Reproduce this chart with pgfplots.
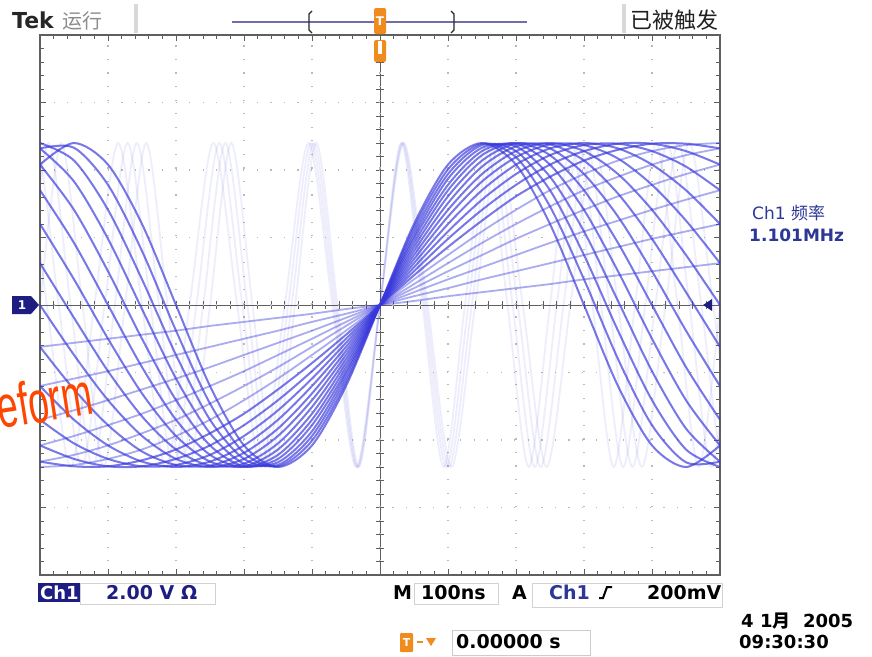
\documentclass[border=0pt]{standalone}
\usepackage{pgfplots}
\pgfplotsset{compat=1.18}
\usepackage{pgfplotstable}
\usepackage{graphicx}
\usepackage{fontspec}
\setmainfont{DejaVu Sans}
\newfontfamily\cjk{Noto Sans CJK SC}
\newfontfamily\lib{Liberation Sans}
\definecolor{trace}{RGB}{55,55,220}
\definecolor{navy}{RGB}{30,30,130}
\definecolor{chblue}{RGB}{45,55,150}
\definecolor{scopeorange}{RGB}{240,140,30}
\definecolor{frame}{RGB}{95,95,95}
\definecolor{barcol}{RGB}{110,110,170}
\definecolor{redorange}{RGB}{255,70,0}

\pgfplotstableread{
x k1 k2 k3 k4 k5 k6 k7 k8 k9 k10 k11 k12 k13 k14 k15 k16 k17 k18 k19 k20
-5 -0.62 -1.20 -1.70 -2.08 -2.32 -2.40 -2.32 -2.08 -1.70 -1.20 -0.62 0.00 0.62 1.20 1.70 2.08 2.32 2.40 2.32 2.08
-4.5 -0.56 -1.09 -1.56 -1.94 -2.22 -2.37 -2.39 -2.28 -2.05 -1.70 -1.25 -0.74 -0.19 0.38 0.92 1.41 1.83 2.14 2.33 2.40
-4 -0.50 -0.98 -1.41 -1.78 -2.08 -2.28 -2.39 -2.39 -2.28 -2.08 -1.78 -1.41 -0.98 -0.50 0.00 0.50 0.98 1.41 1.78 2.08
-3.5 -0.44 -0.86 -1.25 -1.61 -1.90 -2.14 -2.30 -2.39 -2.39 -2.32 -2.17 -1.94 -1.65 -1.31 -0.92 -0.50 -0.06 0.38 0.80 1.20
-3 -0.38 -0.74 -1.09 -1.41 -1.70 -1.94 -2.14 -2.28 -2.37 -2.40 -2.37 -2.28 -2.14 -1.94 -1.70 -1.41 -1.09 -0.74 -0.38 0.00
-2.5 -0.31 -0.62 -0.92 -1.20 -1.46 -1.70 -1.90 -2.08 -2.22 -2.32 -2.38 -2.40 -2.38 -2.32 -2.22 -2.08 -1.90 -1.70 -1.46 -1.20
-2 -0.25 -0.50 -0.74 -0.98 -1.20 -1.41 -1.61 -1.78 -1.94 -2.08 -2.19 -2.28 -2.35 -2.39 -2.40 -2.39 -2.35 -2.28 -2.19 -2.08
-1.5 -0.19 -0.38 -0.56 -0.74 -0.92 -1.09 -1.25 -1.41 -1.56 -1.70 -1.83 -1.94 -2.05 -2.14 -2.22 -2.28 -2.33 -2.37 -2.39 -2.40
-1 -0.13 -0.25 -0.38 -0.50 -0.62 -0.74 -0.86 -0.98 -1.09 -1.20 -1.31 -1.41 -1.51 -1.61 -1.70 -1.78 -1.87 -1.94 -2.01 -2.08
-0.5 -0.06 -0.13 -0.19 -0.25 -0.31 -0.38 -0.44 -0.50 -0.56 -0.62 -0.68 -0.74 -0.80 -0.86 -0.92 -0.98 -1.03 -1.09 -1.15 -1.20
0 0 0 0 0 0 0 0 0 0 0 0 0 0 0 0 0 0 0 0 0
0.5 0.06 0.13 0.19 0.25 0.31 0.38 0.44 0.50 0.56 0.62 0.68 0.74 0.80 0.86 0.92 0.98 1.03 1.09 1.15 1.20
1 0.13 0.25 0.38 0.50 0.62 0.74 0.86 0.98 1.09 1.20 1.31 1.41 1.51 1.61 1.70 1.78 1.87 1.94 2.01 2.08
1.5 0.19 0.38 0.56 0.74 0.92 1.09 1.25 1.41 1.56 1.70 1.83 1.94 2.05 2.14 2.22 2.28 2.33 2.37 2.39 2.40
2 0.25 0.50 0.74 0.98 1.20 1.41 1.61 1.78 1.94 2.08 2.19 2.28 2.35 2.39 2.40 2.39 2.35 2.28 2.19 2.08
2.5 0.31 0.62 0.92 1.20 1.46 1.70 1.90 2.08 2.22 2.32 2.38 2.40 2.38 2.32 2.22 2.08 1.90 1.70 1.46 1.20
3 0.38 0.74 1.09 1.41 1.70 1.94 2.14 2.28 2.37 2.40 2.37 2.28 2.14 1.94 1.70 1.41 1.09 0.74 0.38 0.00
3.5 0.44 0.86 1.25 1.61 1.90 2.14 2.30 2.39 2.39 2.32 2.17 1.94 1.65 1.31 0.92 0.50 0.06 -0.38 -0.80 -1.20
4 0.50 0.98 1.41 1.78 2.08 2.28 2.39 2.39 2.28 2.08 1.78 1.41 0.98 0.50 0.00 -0.50 -0.98 -1.41 -1.78 -2.08
4.5 0.56 1.09 1.56 1.94 2.22 2.37 2.39 2.28 2.05 1.70 1.25 0.74 0.19 -0.38 -0.92 -1.41 -1.83 -2.14 -2.33 -2.40
5 0.62 1.20 1.70 2.08 2.32 2.40 2.32 2.08 1.70 1.20 0.62 0.00 -0.62 -1.20 -1.70 -2.08 -2.32 -2.40 -2.32 -2.08
}\sweep

\begin{document}
\begin{tikzpicture}
\useasboundingbox (0pt,0pt) rectangle (872pt,-656pt);
\fill[white] (0pt,0pt) rectangle (872pt,-656pt);
% centre crosshair
\draw[frame, line width=0.9pt] (40pt,-305pt) -- (720pt,-305pt);
\draw[frame, line width=0.9pt] (380pt,-35pt) -- (380pt,-575pt);
\foreach \i in {1,...,49} \draw[frame, line width=0.8pt] ({(40+13.6*\i)*1pt},-301pt) -- ++(0pt,-8pt);
\foreach \i in {1,...,39} \draw[frame, line width=0.8pt] (376pt,{-(35+13.5*\i)*1pt}) -- ++(8pt,0pt);

\begin{axis}[at={(40pt,-575pt)}, anchor=south west, scale only axis,
  width=680pt, height=540pt, xmin=-5, xmax=5, ymin=-4, ymax=4,
  xtick={-5,-4,...,5}, ytick={-4,-3,...,4},
  minor x tick num=4, minor y tick num=4,
  xticklabels={}, yticklabels={},
  tick align=inside, major tick length=6pt, minor tick length=4pt,
  every tick/.style={frame, line width=0.8pt},
  axis line style={frame, line width=2.2pt},
  grid=major,
  major grid style={gray!55, line width=1.2pt, dash pattern=on 1.2pt off 12.35pt},
  clip=true]
% faint high-frequency traces
\addplot[trace, opacity=0.085, line width=1.8pt, smooth] coordinates {
(-5,0) (-4.6875,2.4) (-4.375,0) (-4.0625,-2.4) (-3.75,0) (-3.4375,2.4) (-3.125,0) (-2.8125,-2.4)
(-2.5,0) (-2.1875,2.4) (-1.875,0) (-1.5625,-2.4) (-1.25,0) (-0.9375,2.4) (-0.625,0) (-0.3125,-2.4)
(0,0) (0.3125,2.4) (0.625,0) (0.9375,-2.4) (1.25,0) (1.5625,2.4) (1.875,0) (2.1875,-2.4)
(2.5,0) (2.8125,2.4) (3.125,0) (3.4375,-2.4) (3.75,0) (4.0625,2.4) (4.375,0) (4.6875,-2.4) (5,0)};
\addplot[trace, opacity=0.085, line width=1.8pt, smooth] coordinates {
(-5.2,0) (-4.875,2.4) (-4.55,0) (-4.225,-2.4) (-3.9,0) (-3.575,2.4) (-3.25,0) (-2.925,-2.4)
(-2.6,0) (-2.275,2.4) (-1.95,0) (-1.625,-2.4) (-1.3,0) (-0.975,2.4) (-0.65,0) (-0.325,-2.4)
(0,0) (0.325,2.4) (0.65,0) (0.975,-2.4) (1.3,0) (1.625,2.4) (1.95,0) (2.275,-2.4)
(2.6,0) (2.925,2.4) (3.25,0) (3.575,-2.4) (3.9,0) (4.225,2.4) (4.55,0) (4.875,-2.4) (5.2,0)};
\addplot[trace, opacity=0.085, line width=1.8pt, smooth] coordinates {
(-5.4,0) (-5.0625,2.4) (-4.725,0) (-4.3875,-2.4) (-4.05,0) (-3.7125,2.4) (-3.375,0) (-3.0375,-2.4)
(-2.7,0) (-2.3625,2.4) (-2.025,0) (-1.6875,-2.4) (-1.35,0) (-1.0125,2.4) (-0.675,0) (-0.3375,-2.4)
(0,0) (0.3375,2.4) (0.675,0) (1.0125,-2.4) (1.35,0) (1.6875,2.4) (2.025,0) (2.3625,-2.4)
(2.7,0) (3.0375,2.4) (3.375,0) (3.7125,-2.4) (4.05,0) (4.3875,2.4) (4.725,0) (5.0625,-2.4) (5.4,0)};
\addplot[trace, opacity=0.085, line width=1.8pt, smooth] coordinates {
(-5.6,0) (-5.25,2.4) (-4.9,0) (-4.55,-2.4) (-4.2,0) (-3.85,2.4) (-3.5,0) (-3.15,-2.4)
(-2.8,0) (-2.45,2.4) (-2.1,0) (-1.75,-2.4) (-1.4,0) (-1.05,2.4) (-0.7,0) (-0.35,-2.4)
(0,0) (0.35,2.4) (0.7,0) (1.05,-2.4) (1.4,0) (1.75,2.4) (2.1,0) (2.45,-2.4)
(2.8,0) (3.15,2.4) (3.5,0) (3.85,-2.4) (4.2,0) (4.55,2.4) (4.9,0) (5.25,-2.4) (5.6,0)};
% swept traces
\pgfplotsinvokeforeach{1,...,6}{\addplot[trace, opacity=0.42, line width=1.8pt, smooth] table[x=x, y=k#1]{\sweep};}
\pgfplotsinvokeforeach{7,...,20}{\addplot[trace, opacity=0.68, line width=2pt, smooth] table[x=x, y=k#1]{\sweep};}
\end{axis}

% ---- top bar
\node[anchor=base west, inner sep=0, text=black!85] at (12pt,-28pt) {\fontsize{22}{22}\selectfont\bfseries Tek};
\node[anchor=base west, inner sep=0, text=gray!90] at (62pt,-28pt) {\cjk\fontsize{20}{20}\selectfont 运行};
\fill[gray!30] (134pt,-4pt) rectangle (138pt,-33pt);
\draw[barcol, line width=2pt] (232pt,-22pt) -- (527pt,-22pt);
\draw[gray!30!black, line width=1.3pt] (312pt,-11pt) -- (309pt,-14pt) -- (309pt,-30pt) -- (312pt,-33pt);
\draw[gray!30!black, line width=1.3pt] (451pt,-11pt) -- (454pt,-14pt) -- (454pt,-30pt) -- (451pt,-33pt);
\fill[scopeorange, rounded corners=1.5pt] (374pt,-8pt) rectangle (386pt,-34pt);
\node[text=white, inner sep=0] at (380pt,-21pt) {\fontsize{12}{12}\selectfont\bfseries T};
\fill[scopeorange, rounded corners=1.5pt] (374pt,-40pt) rectangle (386pt,-62pt);
\fill[white] (378pt,-41pt) rectangle (382pt,-54pt);
\fill[gray!30] (622pt,-4pt) rectangle (626pt,-33pt);
\node[anchor=base west, inner sep=0, text=gray!25!black] at (630pt,-28pt) {\cjk\fontsize{22}{22}\selectfont 已被触发};

% ---- markers
\fill[navy] (12pt,-296pt) -- (31pt,-296pt) -- (39pt,-305pt) -- (31pt,-314pt) -- (12pt,-314pt) -- cycle;
\node[text=white, inner sep=0] at (22pt,-305pt) {\fontsize{12}{12}\selectfont\bfseries 1};
\fill[navy] (703pt,-305pt) -- (712pt,-299pt) -- (712pt,-311pt) -- cycle;

% ---- right readout
\node[anchor=base west, inner sep=0, text=chblue] at (752pt,-219pt) {\fontsize{17}{17}\selectfont Ch1 {\cjk 频率}};
\node[anchor=base west, inner sep=0, text=chblue] at (749pt,-241pt) {\fontsize{17}{17}\selectfont\bfseries 1.101MHz};

% ---- bottom readouts
\fill[navy] (38pt,-583pt) rectangle (80pt,-602pt);
\node[anchor=base west, inner sep=0, text=white] at (40pt,-599pt) {\fontsize{18}{18}\selectfont\bfseries Ch1};
\draw[gray!35, line width=1pt] (80pt,-583pt) rectangle (215pt,-604pt);
\node[anchor=base west, inner sep=0, text=navy] at (106pt,-599pt) {\fontsize{19}{19}\selectfont\bfseries 2.00 V Ω};
\node[anchor=base west, inner sep=0] at (393pt,-599pt) {\fontsize{19}{19}\selectfont\bfseries M};
\draw[gray!35, line width=1pt] (414pt,-583pt) rectangle (498pt,-604pt);
\node[anchor=base west, inner sep=0] at (421pt,-599pt) {\fontsize{19}{19}\selectfont\bfseries 100ns};
\node[anchor=base west, inner sep=0] at (512pt,-599pt) {\fontsize{19}{19}\selectfont\bfseries A};
\draw[gray!35, line width=1pt] (532pt,-583pt) rectangle (722pt,-607pt);
\node[anchor=base west, inner sep=0, text=chblue] at (549pt,-599pt) {\fontsize{19}{19}\selectfont\bfseries Ch1};
\draw[black, line width=2pt] (599pt,-598pt) -- (603pt,-598pt) -- (607pt,-587pt) -- (612pt,-587pt);
\node[anchor=base west, inner sep=0] at (647pt,-599pt) {\fontsize{19}{19}\selectfont\bfseries 200mV};
\node[anchor=base west, inner sep=0] at (741pt,-627pt) {\fontsize{18}{18}\selectfont\bfseries 4 1{\cjk 月}\ \ 2005};
\node[anchor=base west, inner sep=0] at (739pt,-648pt) {\fontsize{18}{18}\selectfont\bfseries 09:30:30};
\fill[scopeorange, rounded corners=1pt] (400pt,-633pt) rectangle (413pt,-652pt);
\node[text=white, inner sep=0] at (406.5pt,-642pt) {\fontsize{11}{11}\selectfont\bfseries T};
\draw[scopeorange, line width=1.5pt] (417pt,-642pt) -- (423pt,-642pt);
\fill[scopeorange] (426pt,-638pt) -- (436pt,-638pt) -- (431pt,-646pt) -- cycle;
\draw[gray!40, line width=1pt] (452pt,-630pt) rectangle (590pt,-655pt);
\node[anchor=base west, inner sep=0] at (456pt,-648pt) {\fontsize{19}{19}\selectfont\bfseries 0.00000 s};

% ---- overlaid red caption (cut at the left edge, as in the reference)
\node[anchor=base east, inner sep=0, rotate=9, text=redorange] at (95pt,-414pt) {\lib\fontsize{60}{60}\selectfont\scalebox{0.62}[1]{eform}};
\end{tikzpicture}
\end{document}
